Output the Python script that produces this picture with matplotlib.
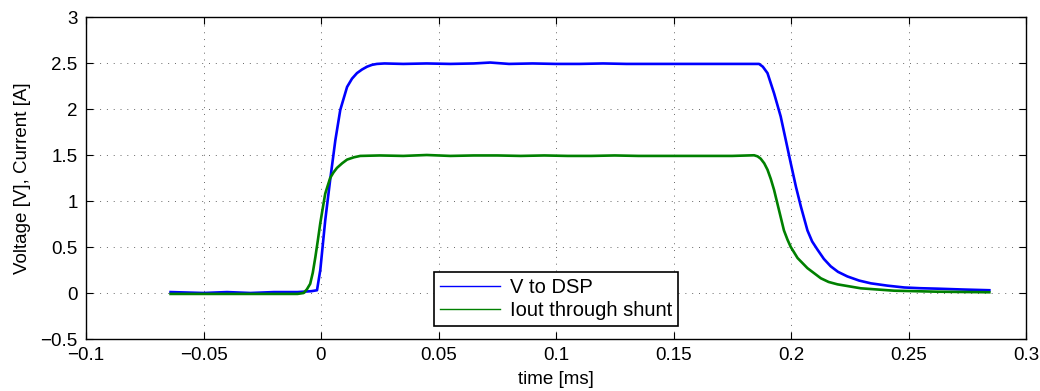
import matplotlib
matplotlib.use("Agg")
import matplotlib.pyplot as plt

# values (time in ms)
t_v = [-0.064, -0.05, -0.04, -0.03, -0.02, -0.01, -0.004, -0.0017, -0.0003, 0.0018,
       0.0039, 0.0061, 0.0082, 0.0111, 0.0132, 0.0153, 0.0175, 0.0196, 0.0217, 0.0238,
       0.027, 0.035, 0.045, 0.055, 0.065, 0.072, 0.08, 0.09, 0.10, 0.11,
       0.12, 0.13, 0.14, 0.15, 0.16, 0.17, 0.18, 0.1864, 0.1880, 0.19,
       0.1928, 0.1956, 0.1978, 0.1999, 0.2021, 0.2042, 0.2070, 0.2090, 0.2113, 0.2140,
       0.2169, 0.2200, 0.2240, 0.2290, 0.2340, 0.2410, 0.2482, 0.2550, 0.2624, 0.2730,
       0.2844]
v_dsp = [0.01, 0.0, 0.01, 0.0, 0.01, 0.01, 0.02, 0.03, 0.25, 0.79,
         1.23, 1.66, 1.99, 2.24, 2.33, 2.39, 2.43, 2.46, 2.48, 2.49,
         2.495, 2.49, 2.495, 2.49, 2.495, 2.505, 2.49, 2.495, 2.49, 2.49,
         2.495, 2.49, 2.49, 2.49, 2.49, 2.49, 2.49, 2.49, 2.46, 2.39,
         2.17, 1.92, 1.66, 1.41, 1.155, 0.94, 0.68, 0.56, 0.47, 0.37,
         0.29, 0.23, 0.18, 0.135, 0.105, 0.08, 0.06, 0.052, 0.047, 0.038,
         0.03]

t_i = [-0.064, -0.05, -0.04, -0.03, -0.02, -0.01, -0.0074, -0.0060, -0.0046, -0.0035,
       -0.0024, -0.0013, -0.0003, 0.0008, 0.0018, 0.0029, 0.0039, 0.0053, 0.0068, 0.0090,
       0.0111, 0.0140, 0.0167, 0.025, 0.035, 0.045, 0.055, 0.065, 0.075, 0.085,
       0.095, 0.105, 0.115, 0.125, 0.135, 0.145, 0.155, 0.165, 0.175, 0.1843,
       0.1858, 0.1871, 0.1886, 0.19, 0.1914, 0.1928, 0.1949, 0.1970, 0.1985, 0.1999,
       0.2028, 0.2070, 0.2127, 0.2160, 0.2198, 0.2297, 0.2439, 0.2624, 0.2844]
i_out = [-0.01, -0.01, -0.01, -0.01, -0.01, -0.01, 0.0, 0.04, 0.1, 0.22,
         0.39, 0.58, 0.76, 0.93, 1.08, 1.17, 1.25, 1.31, 1.36, 1.41,
         1.45, 1.475, 1.49, 1.495, 1.49, 1.50, 1.49, 1.495, 1.495, 1.49,
         1.495, 1.49, 1.49, 1.495, 1.49, 1.49, 1.49, 1.49, 1.49, 1.497,
         1.485, 1.46, 1.41, 1.34, 1.24, 1.12, 0.90, 0.68, 0.58, 0.50,
         0.38, 0.27, 0.16, 0.12, 0.094, 0.051, 0.025, 0.014, 0.008]

x_ticks = [-0.1, -0.05, 0, 0.05, 0.1, 0.15, 0.2, 0.25, 0.3]
y_ticks = [-0.5, 0, 0.5, 1, 1.5, 2, 2.5, 3]

plt.rcParams['font.family'] = ['Liberation Sans', 'DejaVu Sans']

fig = plt.figure(figsize=(10.4, 3.91), dpi=100)
ax = fig.add_axes([86 / 1040, 1 - 339 / 391, 940 / 1040, 322 / 391])

ax.plot(t_v, v_dsp, color='#0000ff', lw=1.9, label='V to DSP')
ax.plot(t_i, i_out, color='#008000', lw=1.9, label='Iout through shunt')

ax.set_xlim(-0.1, 0.3)
ax.set_ylim(-0.5, 3)
ax.set_xticks(x_ticks)
ax.set_yticks(y_ticks)
ax.set_xticklabels([f"{x:g}".replace('-', '\u2212') for x in x_ticks])
ax.set_yticklabels([f"{y:g}".replace('-', '\u2212') for y in y_ticks])
ax.tick_params(direction='in', top=True, right=True, labelsize=13.5, length=5, width=0.8,
               pad=6)
for s in ax.spines.values():
    s.set_linewidth(1.0)
ax.grid(True, color='black', linestyle=(0, (1, 6)), linewidth=0.7, alpha=0.6)

ax.set_xlabel('time [ms]', fontsize=13.5, labelpad=5)
ax.set_ylabel('Voltage [V], Current [A]', fontsize=13.5, labelpad=7)

leg = ax.legend(loc='lower center', bbox_to_anchor=(0.5, 0.04), fontsize=14.5,
                fancybox=False, framealpha=1, edgecolor='black', handlelength=3.0,
                borderpad=0.3, labelspacing=0.2, handletextpad=0.5, borderaxespad=0)
leg.get_frame().set_linewidth(1.2)
for h in leg.get_lines():
    h.set_linewidth(1.0)

fig.savefig('out.png', dpi=100)
